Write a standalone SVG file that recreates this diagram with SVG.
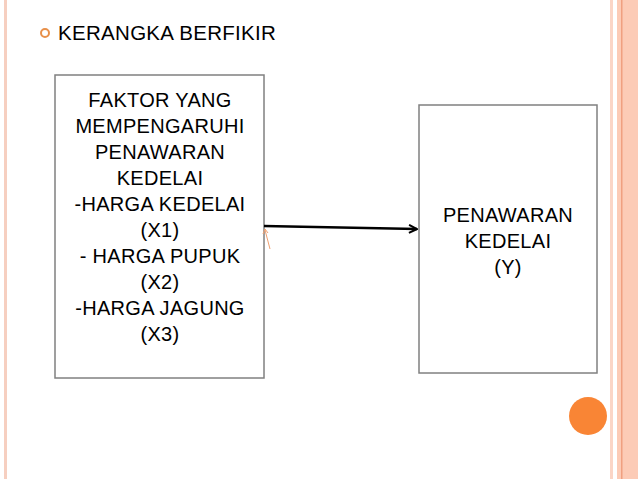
<svg xmlns="http://www.w3.org/2000/svg" width="638" height="479" viewBox="0 0 638 479">
<style>
.t{font-family:"Liberation Sans",Arial,sans-serif;font-size:20px;fill:#000;text-anchor:middle;letter-spacing:0.3px}
.box{fill:#fff;stroke:#808080;stroke-width:1.5}
</style>
<defs><marker id="ah" markerWidth="10" markerHeight="10" refX="9" refY="5" orient="auto" markerUnits="userSpaceOnUse"><path d="M1,1 L9,5 L1,9" fill="none" stroke="#000" stroke-width="2"/></marker></defs>
<rect width="638" height="479" fill="#fff"/>
<rect x="4" y="0" width="3" height="479" fill="#f6cfc0"/>
<rect x="610" y="0" width="3" height="479" fill="#fbd5c6"/>
<rect x="617" y="0" width="21" height="479" fill="#fccbb6"/>
<rect x="621" y="0" width="1.5" height="479" fill="#f0a080"/>
<circle cx="588" cy="416" r="19" fill="#f98535"/>
<circle cx="45" cy="33" r="4" fill="none" stroke="#e8904a" stroke-width="2"/>
<text x="58" y="40" style="font-family:'Liberation Sans',Arial,sans-serif;font-size:20.5px;letter-spacing:0.3px">KERANGKA BERFIKIR</text>
<g id="n1"><rect class="box" x="55" y="75" width="209" height="303"/>
<text class="t"><tspan x="160" y="107">FAKTOR YANG</tspan><tspan x="160" y="133">MEMPENGARUHI</tspan><tspan x="160" y="159">PENAWARAN</tspan><tspan x="160" y="185">KEDELAI</tspan><tspan x="160" y="211">-HARGA KEDELAI</tspan><tspan x="160" y="237">(X1)</tspan><tspan x="160" y="263">- HARGA PUPUK</tspan><tspan x="160" y="289">(X2)</tspan><tspan x="160" y="315">-HARGA JAGUNG</tspan><tspan x="160" y="341">(X3)</tspan></text></g>
<g id="n2"><rect class="box" x="419" y="105" width="178" height="268"/>
<text class="t"><tspan x="508" y="222">PENAWARAN</tspan><tspan x="508" y="248">KEDELAI</tspan><tspan x="508" y="274">(Y)</tspan></text></g>
<g id="connectors">
<line x1="264" y1="226" x2="417" y2="229" stroke="#000" stroke-width="2.5" marker-end="url(#ah)"/>
<path d="M270,249 L265,230 M263,234 L265,229 L268,233" fill="none" stroke="#f0a070" stroke-width="1"/>
</g>
</svg>
